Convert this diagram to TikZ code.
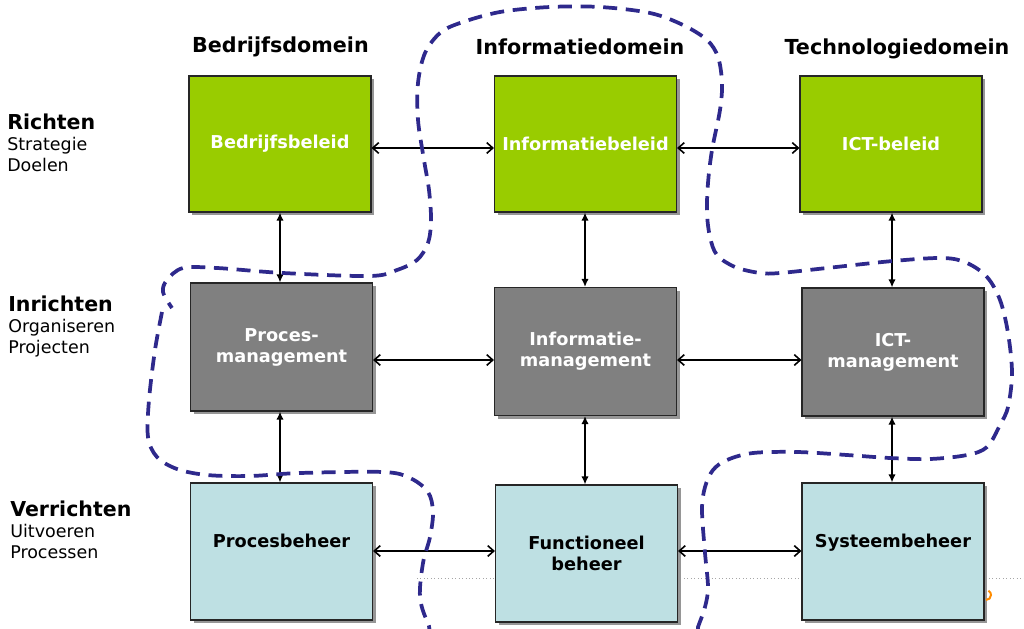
\documentclass[tikz,border=0pt]{standalone}
\usepackage{fontspec}
\setmainfont{DejaVu Sans}
\usetikzlibrary{arrows.meta,shadows}
\definecolor{bgreen}{RGB}{153,204,0}
\definecolor{bgray}{RGB}{128,128,128}
\definecolor{bblue}{RGB}{190,224,227}
\definecolor{dashblue}{RGB}{46,41,140}
\definecolor{shadowgray}{RGB}{150,150,150}
\begin{document}
\begin{tikzpicture}[x=0.75pt,y=-0.75pt,
  box/.style={draw=black!85, line width=0.8pt, minimum width=136.5pt, inner sep=0pt, align=center,
    font=\bfseries\fontsize{13.3}{15.75}\selectfont,
    drop shadow={shadow xshift=2.5pt, shadow yshift=-2.5pt, fill=shadowgray, opacity=1}},
  greenbox/.style={box, fill=bgreen, text=white, minimum height=102pt},
  graybox/.style={box, fill=bgray, text=white, minimum height=96pt},
  bluebox/.style={box, fill=bblue, text=black, minimum height=102.75pt},
  heading/.style={font=\bfseries\fontsize{15.5}{18}\selectfont, anchor=base},
  rowtitle/.style={font=\bfseries\fontsize{15.4}{18}\selectfont, anchor=base west, inner sep=0pt},
  rowsub/.style={font=\fontsize{13.1}{15}\selectfont, anchor=base west, inner sep=0pt},
  harrow/.style={line width=1.2pt, {Straight Barb[length=4.5pt,width=8pt]}-{Straight Barb[length=4.5pt,width=8pt]}},
  varrow/.style={line width=1.2pt, {Latex[length=6pt,width=5.5pt]}-{Latex[length=6pt,width=5.5pt]}},
  dashcurve/.style={draw=dashblue, line width=2.8pt, dash pattern=on 10.5pt off 6.5pt},
]
\useasboundingbox (0,0) rectangle (1024,628);

% dotted rule
\draw[gray!70, line width=0.6pt, dotted] (417,578) -- (1024,578);

% headings
\node[heading] (hbd) at (280.5,52) {Bedrijfsdomein};
\node[heading] (hid) at (580,54) {Informatiedomein};
\node[heading] (htd) at (897,54) {Technologiedomein};

% row titles
\node[rowtitle] (richten) at (7,129) {Richten};
\node[rowsub] (strategie) at (7,150) {Strategie};
\node[rowsub] (doelen) at (7,171) {Doelen};
\node[rowtitle] (inrichten) at (8,311) {Inrichten};
\node[rowsub] (organiseren) at (8,332) {Organiseren};
\node[rowsub] (projecten) at (8,353) {Projecten};
\node[rowtitle] (verrichten) at (10,516) {Verrichten};
\node[rowsub] (uitvoeren) at (10,537) {Uitvoeren};
\node[rowsub] (processen) at (10,558) {Processen};

% boxes
\node[greenbox] (bb) at (280,144) {Bedrijfsbeleid};
\node[greenbox] (ib) at (585.5,144) {Informatiebeleid};
\node[greenbox] (ictb) at (891,144) {ICT-beleid};
\node[graybox] (pm) at (281.5,347) {Proces-\\management};
\node[graybox] (im) at (585.5,351.5) {Informatie-\\management};
\node[graybox] (ictm) at (893,352) {ICT-\\management};
\node[bluebox] (pb) at (281.5,551.5) {Procesbeheer\\\phantom{x}};
\node[bluebox] (fb) at (586.5,553.5) {Functioneel\\beheer};
\node[bluebox] (sb) at (893,551.5) {Systeembeheer\\\phantom{x}};

% arrow levels
\coordinate (r1) at (0,148);
\coordinate (r2) at (0,360);
\coordinate (r3) at (0,551);
\coordinate (c1) at (280,0);
\coordinate (c2) at (585,0);
\coordinate (c3) at (892,0);

\draw[harrow] (bb.east |- r1) -- (ib.west |- r1);
\draw[harrow] (ib.east |- r1) -- (ictb.west |- r1);
\draw[harrow] (pm.east |- r2) -- (im.west |- r2);
\draw[harrow] (im.east |- r2) -- (ictm.west |- r2);
\draw[harrow] (pb.east |- r3) -- (fb.west |- r3);
\draw[harrow] (fb.east |- r3) -- (sb.west |- r3);

\draw[varrow] (c1 |- bb.south) -- (c1 |- pm.north);
\draw[varrow] (c1 |- pm.south) -- (c1 |- pb.north);
\draw[varrow] (c2 |- ib.south) -- (c2 |- im.north);
\draw[varrow] (c2 |- im.south) -- (c2 |- fb.north);
\draw[varrow] (c3 |- ictb.south) -- (c3 |- ictm.north);
\draw[varrow] (c3 |- ictm.south) -- (c3 |- sb.north);

% logo fragment
\draw[orange!90!yellow, line width=1.5pt] (986,600) arc[start angle=90, end angle=-60, radius=5];

% dashed boundary
\begin{scope}
\clip (0,0) rectangle (1024,628);
\draw[dashcurve] plot[smooth, tension=0.55] coordinates {
(162,312) (155,350) (149,400) (148,437) (157,457) (177,469) (207,475) (250,476) (300,473) (383,472) (410,478) (428,492) (433,512) (430,537) (423,563) (420,597) (428,623) (445,650) (560,690) (690,650) (698,627) (705,607) (708,587) (705,553) (702,510) (705,487) (713,470) (727,460) (753,453) (797,452) (847,455) (890,458) (930,459) (967,455) (987,447) (1000,425) (1008,407) (1012,373) (1008,333) (1000,300) (987,277) (967,263) (943,258) (893,261) (827,268) (780,273) (760,273) (735,267) (717,255) (710,237) (707,213) (708,183) (712,150) (720,110) (722,83) (718,57) (707,40) (683,25) (650,13) (600,7) (550,7) (500,12) (460,23) (440,33) (425,53) (418,83) (418,120) (424,160) (429,190) (431,220) (428,243) (417,260) (397,270) (370,276) (283,273) (217,268) (183,268) (167,280) (163,292) (172,308)};
\end{scope}
\end{tikzpicture}
\end{document}
